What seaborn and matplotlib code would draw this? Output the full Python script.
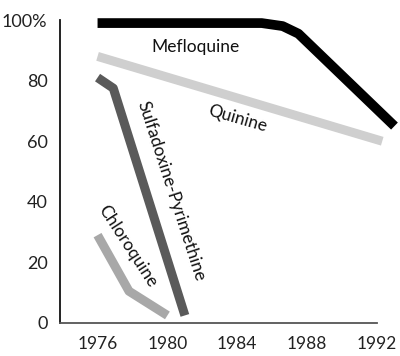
import matplotlib
matplotlib.use("Agg")
import matplotlib.pyplot as plt
import seaborn as sns

# series (year, % efficacy)
meflo_years = [1976, 1985.4, 1986.6, 1987.5, 1993]
meflo_vals = [99, 99, 98, 95.5, 65]

quinine_years = [1976, 1992.3]
quinine_vals = [88, 60]

sp_years = [1976, 1976.9, 1981]
sp_vals = [81, 77.5, 2.5]

chloro_years = [1976, 1977.8, 1980]
chloro_vals = [29, 10.5, 2.5]

x_ticks = [1976, 1980, 1984, 1988, 1992]
y_ticks = [0, 20, 40, 60, 80, 100]
y_labels = ["0", "20", "40", "60", "80", "100%"]

sns.set_style("white")
plt.rcParams['font.family'] = ['Lato', 'DejaVu Sans']

fig = plt.figure(figsize=(4, 3.56), dpi=100)
ax = fig.add_axes([0.15, 0.0927, 0.7925, 0.851])

kw = dict(linewidth=6.5, solid_capstyle='butt', solid_joinstyle='round', clip_on=False)
sns.lineplot(x=quinine_years, y=quinine_vals, color="#cfcfcf", ax=ax, **kw)
sns.lineplot(x=chloro_years, y=chloro_vals, color="#a8a8a8", ax=ax, **kw)
sns.lineplot(x=sp_years, y=sp_vals, color="#5a5a5a", ax=ax, **kw)
sns.lineplot(x=meflo_years, y=meflo_vals, color="black", ax=ax, linewidth=7,
             solid_capstyle='butt', solid_joinstyle='round', clip_on=False)

ax.set_xlim(1973.85, 1992)
ax.set_ylim(0, 100)
ax.set_xticks(x_ticks)
ax.set_yticks(y_ticks)
ax.set_yticklabels(y_labels)
ax.tick_params(axis='x', direction='inout', length=7, width=1.2, colors='#444444',
               labelcolor='#222222', labelsize=12.5, pad=6)
ax.tick_params(axis='y', direction='out', length=5, width=1.2, colors='#222222',
               labelsize=13, pad=4)

for s in ['top', 'right']:
    ax.spines[s].set_visible(False)
ax.spines['left'].set_color('#111111')
ax.spines['left'].set_linewidth(1.3)
ax.spines['bottom'].set_color('#555555')
ax.spines['bottom'].set_linewidth(1.3)

txt = dict(ha='center', va='center', rotation_mode='anchor', fontsize=12.5, color='#111111')
ax.text(1981.6, 91, "Mefloquine", **txt)
ax.text(1984.0, 67.5, "Quinine", rotation=-16, **txt)
ax.text(1980.2, 43.5, "Sulfadoxine-Pyrimethine", rotation=-72, **txt)
ax.text(1977.7, 25.5, "Chloroquine", rotation=-57, **txt)

fig.savefig("out.png", dpi=100)
